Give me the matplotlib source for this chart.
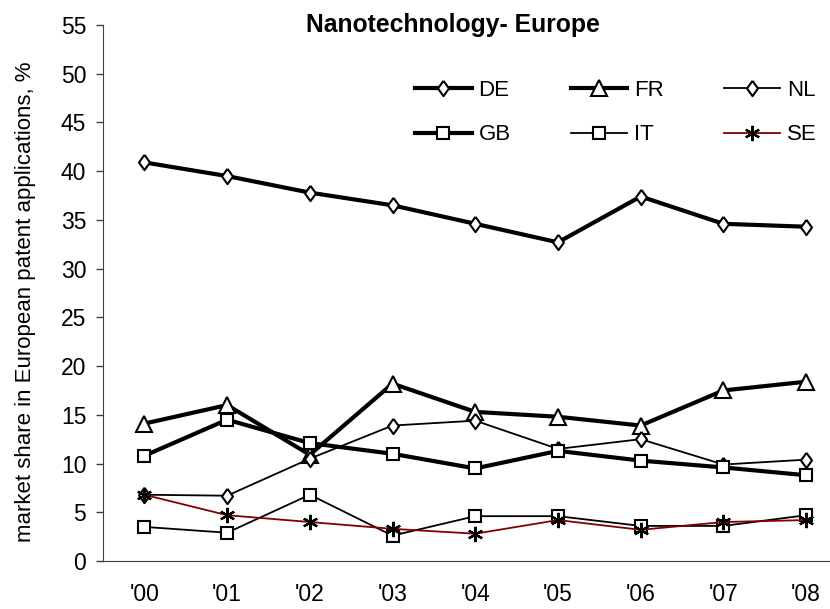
import matplotlib
matplotlib.use("Agg")
import matplotlib.pyplot as plt

plt.rcParams['font.family'] = ['Liberation Sans', 'DejaVu Sans']

years = ["'00", "'01", "'02", "'03", "'04", "'05", "'06", "'07", "'08"]
DE = [40.9, 39.5, 37.8, 36.5, 34.6, 32.7, 37.4, 34.6, 34.3]
FR = [14.1, 16.0, 10.9, 18.2, 15.3, 14.8, 13.9, 17.5, 18.4]
NL = [6.8, 6.7, 10.5, 13.9, 14.4, 11.5, 12.5, 9.9, 10.4]
GB = [10.8, 14.5, 12.1, 11.0, 9.5, 11.3, 10.3, 9.6, 8.8]
IT = [3.5, 2.9, 6.8, 2.6, 4.6, 4.6, 3.6, 3.6, 4.7]
SE = [6.8, 4.7, 4.0, 3.3, 2.8, 4.2, 3.2, 4.0, 4.2]

W, H = 830, 609
fig = plt.figure(figsize=(W / 100, H / 100), dpi=100)
left, right, top, bottom = 103, 847.5, 25, 561
ax = fig.add_axes([left / W, 1 - bottom / H, (right - left) / W, (bottom - top) / H])

diamond = [(0, 1), (0.72, 0), (0, -1), (-0.72, 0), (0, 1)]
x = list(range(len(years)))
thick, thin = 3.0, 1.3
h_de, = ax.plot(x, DE, color='black', lw=thick, marker=diamond, ms=11, mfc='white', mec='black', mew=1.5, label='DE')
h_fr, = ax.plot(x, FR, color='black', lw=thick, marker='^', ms=11, mfc='white', mec='black', mew=1.5, label='FR')
h_nl, = ax.plot(x, NL, color='black', lw=thin, marker=diamond, ms=11, mfc='white', mec='black', mew=1.5, label='NL')
h_gb, = ax.plot(x, GB, color='black', lw=thick, marker='s', ms=8.5, mfc='white', mec='black', mew=1.5, label='GB')
h_it, = ax.plot(x, IT, color='black', lw=thin, marker='s', ms=8.5, mfc='white', mec='black', mew=1.5, label='IT')
h_se, = ax.plot(x, SE, color='#800000', lw=thin, marker=(6, 2, 0), ms=11, mfc='black', mec='black', mew=1.6, label='SE')

ax.set_xlim(-0.5, 8.5)
ax.set_ylim(0, 55)
ax.set_yticks(range(0, 56, 5))
ax.set_xticks(x)
ax.set_xticklabels(years)
ax.tick_params(axis='x', length=0, pad=16, labelsize=16.5)
ax.tick_params(axis='y', length=5, width=1, direction='out', pad=7, labelsize=16.5, color='#404040')
for s in ['top', 'right']:
    ax.spines[s].set_visible(False)
ax.spines['left'].set_color('#404040')
ax.spines['bottom'].set_color('#404040')

ax.set_ylabel('market share in European patent applications, %', fontsize=16)
ax.yaxis.set_label_coords((36 - left) / (right - left), 1 - (302 - top) / (bottom - top))
fig.text(453 / W, 1 - 25 / H, 'Nanotechnology- Europe', fontsize=17.8, fontweight='bold', ha='center', va='center')

handles = [h_de, h_gb, h_fr, h_it, h_nl, h_se]
labels = ['DE', 'GB', 'FR', 'IT', 'NL', 'SE']
leg = ax.legend(handles, labels, ncol=3, frameon=False, fontsize=16,
                loc='upper left', bbox_to_anchor=(404 / W, 1 - 69 / H), bbox_transform=fig.transFigure,
                handlelength=2.55, handletextpad=0.3, columnspacing=2.7, labelspacing=1.05,
                borderpad=0)

fig.savefig('out.png', dpi=100)
